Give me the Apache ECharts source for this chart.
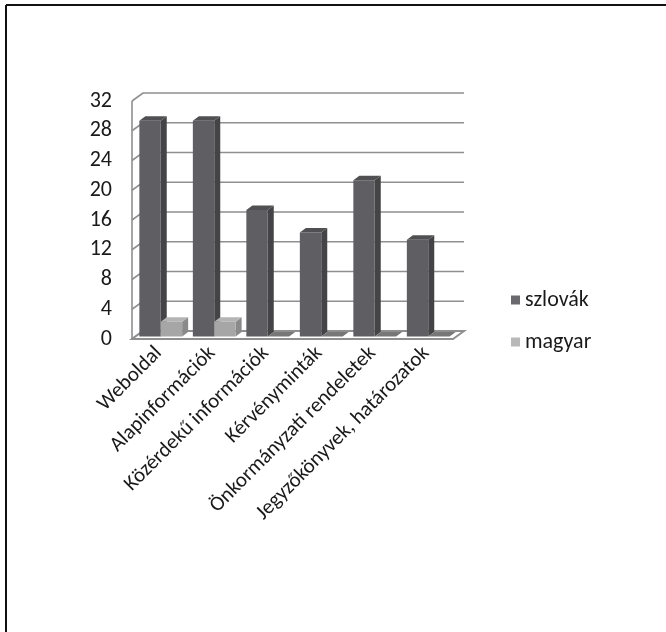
<!DOCTYPE html>
<html>
<head>
<meta charset="utf-8">
<script src="https://cdn.jsdelivr.net/npm/echarts@6/dist/echarts.min.js"></script>
<style>
  html, body { margin: 0; padding: 0; background: #fff; }
  #chart { width: 666px; height: 632px; }
</style>
</head>
<body>
<div id="chart"></div>
<script>
const categories = ['Weboldal', 'Alapinformációk', 'Közérdekű információk', 'Kérvényminták', 'Önkormányzati rendeletek', 'Jegyzőkönyvek, határozatok'];
const szlovak = [29, 29, 17, 14, 21, 13];
const magyar = [2, 2, 0, 0, 0, 0];
const yTicks = [0, 4, 8, 12, 16, 20, 24, 28, 32];
const seriesNames = ['szlovák', 'magyar'];

// pseudo-3D geometry (pixels)
const DEPTH = [11, -8];        // back wall offset from the front plane
const BAR_SHIFT = [2, -2.5];   // bar front face set slightly back from the floor edge
const BAR_DEPTH = [6, -4.5];   // bar thickness
const BAR_FRAC = 0.4;          // each bar's share of the category band

const FONT = 'Carlito, Lato, "Open Sans", sans-serif';

const palette = [
  { legend: '#6a6a6e', front: '#5f5f63', side: '#444447', top: '#505053', flat: '#727272' },
  { legend: '#b9b9b9', front: '#a6a6a6', side: '#8a8a8a', top: '#b4b4b4', flat: '#777777' }
];

function makeBar(slot, c) {
  return function (params, api) {
    const ci = api.value(0), v = api.value(1);
    const b = api.coord([ci, 0]);
    const t = api.coord([ci, v]);
    const w = api.size([1, 0])[0] * BAR_FRAC;
    const xl = b[0] - w + slot * w + BAR_SHIFT[0];
    const xr = xl + w;
    const yb = b[1] + BAR_SHIFT[1];
    const yt = t[1] + BAR_SHIFT[1];
    const dx = BAR_DEPTH[0], dy = BAR_DEPTH[1];
    const children = [];
    if (v > 0) {
      children.push({ type: 'polygon', shape: { points: [[xr, yt], [xr + dx, yt + dy], [xr + dx, yb + dy], [xr, yb]] }, style: { fill: c.side } });
      children.push({ type: 'rect', shape: { x: xl, y: yt, width: w, height: yb - yt }, style: { fill: c.front } });
    }
    children.push({ type: 'polygon', shape: { points: [[xl, yt], [xr, yt], [xr + dx, yt + dy], [xl + dx, yt + dy]] }, style: { fill: v > 0 ? c.top : c.flat } });
    return { type: 'group', children };
  };
}

function renderWall(params, api) {
  const v = api.value(1);
  const cs = params.coordSys;
  const y = api.coord([0, v])[1];
  const xl = cs.x, xr = cs.x + cs.width;
  const dx = DEPTH[0], dy = DEPTH[1];
  const line = { stroke: '#8f8f8f', lineWidth: 1.6, fill: null };
  const children = [
    { type: 'polyline', shape: { points: [[xl, y], [xl + dx, y + dy], [xr + dx, y + dy]] }, style: line }
  ];
  if (v === yTicks[0]) {
    const yTop = api.coord([0, yTicks[yTicks.length - 1]])[1];
    children.push({ type: 'polygon', shape: { points: [[xl, y], [xr, y], [xr + dx, y + dy], [xl + dx, y + dy]] }, style: { fill: '#fff', stroke: '#8f8f8f', lineWidth: 2 } });
    children.push({ type: 'line', shape: { x1: xl, y1: y, x2: xl, y2: yTop }, style: { stroke: '#8f8f8f', lineWidth: 1.6 } });
  }
  return { type: 'group', children };
}

const chart = echarts.init(document.getElementById('chart'), null, { renderer: 'canvas' });

chart.setOption({
  animation: false,
  backgroundColor: '#fff',
  textStyle: { fontFamily: FONT },
  grid: { left: 132, right: 213, top: 101, bottom: 293 },
  legend: {
    data: seriesNames,
    orient: 'vertical',
    left: 506,
    top: 284,
    icon: 'rect',
    itemWidth: 9,
    itemHeight: 9,
    itemGap: 20,
    textStyle: { fontSize: 22, color: '#1a1a1a', fontFamily: FONT }
  },
  xAxis: {
    type: 'category',
    data: categories,
    axisLine: { show: false },
    axisTick: { show: false },
    splitLine: { show: false },
    axisLabel: { rotate: 45, fontSize: 21, color: '#1a1a1a', margin: 11, interval: 0, fontFamily: FONT }
  },
  yAxis: {
    type: 'value',
    min: 0,
    max: 32,
    interval: 4,
    axisLine: { show: false },
    axisTick: { show: false },
    splitLine: { show: false },
    axisLabel: { fontSize: 22, color: '#1a1a1a', margin: 20, fontFamily: FONT }
  },
  graphic: [
    { type: 'line', shape: { x1: 6, y1: 5, x2: 666, y2: 5 }, style: { stroke: '#111', lineWidth: 2 } },
    { type: 'line', shape: { x1: 6, y1: 5, x2: 6, y2: 632 }, style: { stroke: '#111', lineWidth: 2 } }
  ],
  series: [
    {
      name: 'walls',
      type: 'custom',
      renderItem: renderWall,
      data: yTicks.map(v => [0, v]),
      encode: { x: 0, y: 1 },
      z: 1,
      silent: true
    },
    {
      name: seriesNames[0],
      type: 'custom',
      renderItem: makeBar(0, palette[0]),
      itemStyle: { color: palette[0].legend },
      data: szlovak.map((v, i) => [i, v]),
      encode: { x: 0, y: 1 },
      z: 2
    },
    {
      name: seriesNames[1],
      type: 'custom',
      renderItem: makeBar(1, palette[1]),
      itemStyle: { color: palette[1].legend },
      data: magyar.map((v, i) => [i, v]),
      encode: { x: 0, y: 1 },
      z: 3
    }
  ]
});
</script>
</body>
</html>
